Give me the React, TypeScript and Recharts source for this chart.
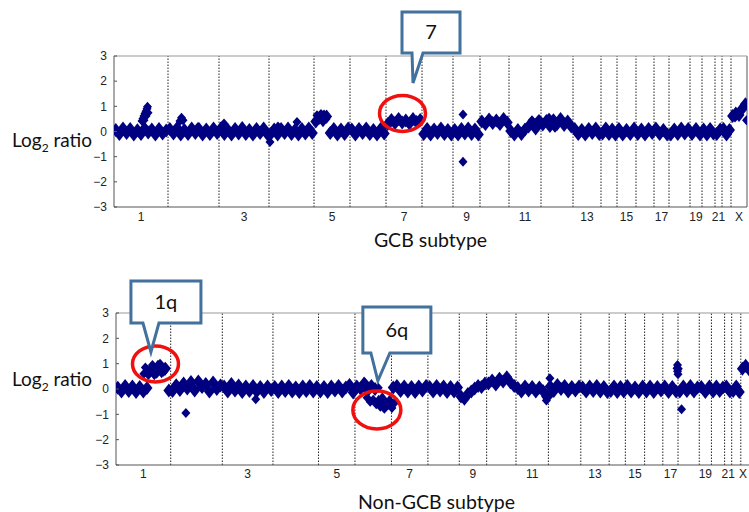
import React from 'react';
import { ScatterChart, Scatter, XAxis, YAxis, ReferenceLine, ReferenceDot, Label } from 'recharts';

// chromosome order and relative sizes (in probe units)
const CHROM_NAMES = ['1', '2', '3', '4', '5', '6', '7', '8', '9', '10', '11', '12', '13', '14', '15', '16', '17', '18', '19', '20', '21', '22', 'X'];
const CHROM_LENGTHS = [54, 51, 50, 45, 36, 36, 36, 31, 27, 29, 32, 32, 28, 16, 19, 18, 15, 21, 12, 13, 7, 9, 16];
const LABELED = ['1', '3', '5', '7', '9', '11', '13', '15', '17', '19', '21', 'X'];
const Y_TICKS = [-3, -2, -1, 0, 1, 2, 3];

// log2 ratios per chromosome, GCB subtype
const GCB_LEVELS: number[][] = [
  [0.06, -0.1, 0.12, -0.06, 0.1, -0.12, 0.05, -0.1, 0.12, -0.04, 0.08, -0.12, 0.1, -0.08, 0.04],
  [0.1, -0.08, 0.14, -0.12, 0.06, -0.1, 0.12, -0.06, 0.1, -0.12, 0.08, -0.1, 0.12, -0.06],
  [0.12, -0.1, 0.06, -0.12, 0.1, -0.08, 0.14, -0.1, 0.06, -0.12, 0.1, -0.06, 0.12, -0.1],
  [-0.1, 0.08, -0.12, 0.1, -0.06, 0.12, -0.1, 0.06, -0.12, 0.1, -0.08, 0.12, -0.06],
  [0.4, 0.55, 0.45, 0.6, -0.06, 0.1, -0.12, 0.08, -0.1, 0.12],
  [0.08, -0.12, 0.1, -0.06, 0.12, -0.1, 0.06, -0.12, 0.1, -0.08],
  [0.3, 0.46, 0.34, 0.5, 0.36, 0.44, 0.32, 0.5, 0.38, 0.46],
  [-0.1, 0.1, -0.12, 0.08, -0.06, 0.12, -0.1, 0.06, -0.12],
  [0.06, -0.12, 0.1, -0.08, 0.12, -0.1, 0.08, -0.12],
  [0.4, 0.3, 0.48, 0.34, 0.44, 0.3, 0.5, 0.36],
  [0.02, -0.12, 0.06, -0.1, 0.08, 0.2, 0.32, 0.12, 0.36],
  [0.28, 0.42, 0.22, 0.45, 0.3, 0.5, 0.26, 0.4, 0.2],
  [0.1, -0.1, 0.06, -0.12, 0.1, -0.06, 0.12, -0.1],
  [-0.08, 0.12, -0.1, 0.08, -0.12],
  [0.1, -0.12, 0.06, -0.1, 0.12],
  [-0.1, 0.08, -0.12, 0.1, -0.06],
  [0.12, -0.1, 0.06, -0.12],
  [-0.12, 0.08, -0.1, 0.12, -0.08, 0.1],
  [-0.1, 0.1, -0.12],
  [0.08, -0.12, 0.1, -0.08],
  [-0.1, 0.08],
  [0.1, -0.12, 0.06],
  [0.62, 0.72, 0.66, 0.9, 1.08],
];
// [chromosome index, offset in chromosome, log2 ratio]
const GCB_EXTRA: [number, number, number][] = [
  [0, 28, 0.42], [0, 29, 0.52], [0, 30, 0.62], [0, 31, 0.72], [0, 32, 0.8], [0, 33, 0.9], [0, 33.5, 0.98],
  [0, 30, 0.45], [0, 32, 0.62], [0, 34, 0.75],
  [1, 12, 0.42], [1, 13.5, 0.55], [1, 15, 0.45], [1, 30, 0.18],
  [2, 5, 0.32],
  [3, 1, -0.42], [3, 9, 0.2], [3, 28, 0.38],
  [4, 3, 0.65], [4, 7, 0.7], [4, 10, 0.68], [4, 12, 0.5],
  [8, 10, 0.68], [8, 10, -1.2],
  [10, 23, 0.45], [10, 27, 0.2], [10, 30, 0.5],
  [11, 8, 0.55], [11, 14, 0.15],
  [22, 4, 0.56], [22, 9, 0.78], [22, 13, 1.0], [22, 15.5, 0.45],
];

// log2 ratios per chromosome, non-GCB subtype
const NON_GCB_LEVELS: number[][] = [
  [0.05, -0.1, 0.12, -0.08, 0.1, -0.12, 0.08, -0.1, 0.04, 0.75, 0.62, 0.88, 0.7, 0.8, -0.06],
  [-0.08, 0.15, -0.04, 0.22, 0.02, 0.28, -0.06, 0.3, 0.08, 0.2, -0.1, 0.26, 0.0, 0.14],
  [0.1, -0.1, 0.2, -0.06, 0.14, -0.12, 0.1, -0.08, 0.12, -0.1, 0.08, -0.12, 0.1, -0.04],
  [0.08, -0.12, 0.1, -0.08, 0.12, -0.1, 0.06, -0.12, 0.1, -0.08, 0.12, -0.1, 0.08],
  [-0.1, 0.08, -0.12, 0.1, -0.06, 0.12, -0.1, 0.06, 0.16, -0.14],
  [0.1, 0.02, 0.22, -0.06, 0.12, 0.0, -0.5, -0.4, -0.62, -0.5],
  [0.06, 0.12, -0.08, 0.1, -0.1, 0.08, -0.12, 0.1, -0.06, 0.12],
  [0.08, -0.1, 0.12, -0.06, 0.1, -0.12, 0.08, -0.1, 0.06],
  [-0.3, -0.38, -0.2, -0.1, 0.02, 0.12, 0.08, 0.22],
  [0.22, 0.34, 0.18, 0.4, 0.3, 0.46, 0.26, 0.12],
  [0.04, -0.1, 0.1, -0.06, 0.08, -0.1, 0.06, -0.08, -0.3],
  [0.1, -0.08, 0.16, 0.0, 0.12, -0.1, 0.08, -0.06, 0.1],
  [0.06, -0.1, 0.1, -0.08, 0.12, -0.1, 0.08, -0.12],
  [-0.08, 0.1, -0.12, 0.08, -0.1],
  [0.12, -0.1, 0.06, -0.12, 0.1],
  [-0.1, 0.1, -0.12, 0.08, -0.06],
  [0.1, -0.12, 0.08, -0.1],
  [-0.1, 0.1, -0.08, 0.12, -0.1, 0.06],
  [0.08, -0.12, 0.1],
  [-0.1, 0.1, -0.08, 0.06],
  [0.1, -0.1],
  [-0.08, 0.1, -0.12],
  [0.8, 0.92, 0.78, 0.86, 0.82],
];
const NON_GCB_EXTRA: [number, number, number][] = [
  [0, 27.5, 0.6], [0, 29, 0.85], [0, 32, 0.55], [0, 36, 0.95], [0, 40, 0.6], [0, 43.5, 1.0], [0, 47, 0.68], [0, 49, 0.85],
  [0, 31, 0.75], [0, 38, 0.78], [0, 45, 0.82],
  [1, 15, -0.95],
  [2, 33, -0.4],
  [5, 10, 0.25], [5, 12, -0.35], [5, 15, -0.5], [5, 18, -0.42], [5, 21, -0.6], [5, 23, 0.05], [5, 25, -0.7],
  [5, 29, -0.78], [5, 33, -0.62], [5, 36.5, -0.75], [5, 39, -0.55], [5, 27, -0.45], [5, 31, -0.55],
  [10, 30, -0.45], [10, 31.5, -0.25], [11, 1.5, 0.42], [11, 0.5, -0.3],
  [16, 14.5, 0.95], [16, 14.5, 0.7], [16, 14, 0.82], [16, 15, 0.58], [16, 15.3, 0.8],
  [17, 3.5, -0.8],
];

// annotations: ring centre / callout tip in data units
const GCB_RINGS = [{ x: 288.5, y: 0.72, rx: 23, ry: 18 }];
const GCB_CALLOUTS = [{ text: '7', x: 299, y: 1.93, box: [-11, -71, 47, -30], base: [-1, 10] }];
const NON_GCB_RINGS = [
  { x: 39, y: 0.99, rx: 23, ry: 18 },
  { x: 257.6, y: -0.83, rx: 24, ry: 19 },
];
const NON_GCB_CALLOUTS = [
  { text: '1q', x: 34.5, y: 1.46, box: [-20, -71, 50, -29], base: [-8, 8] },
  { text: '6q', x: 258.6, y: 0.32, box: [-15, -74, 53, -28], base: [-7, 12] },
];

const STARTS: number[] = [];
CHROM_LENGTHS.reduce((acc, len) => { STARTS.push(acc); return acc + len; }, 0);
const TOTAL = CHROM_LENGTHS.reduce((a, b) => a + b, 0);
const BOUNDARIES = STARTS.slice(1);
const X_TICKS = CHROM_NAMES.map((n, i) => (LABELED.includes(n) ? STARTS[i] + CHROM_LENGTHS[i] / 2 : null)).filter((v) => v !== null) as number[];

const levelPoints = (levels: number[][]) =>
  levels.flatMap((vals, c) => vals.map((v, j) => ({ x: STARTS[c] + ((j + 0.5) * CHROM_LENGTHS[c]) / vals.length, y: v })));
const extraPoints = (extra: [number, number, number][]) => extra.map(([c, off, v]) => ({ x: STARTS[c] + off, y: v }));

const NAVY = '#000080';
const TICK_FONT = '"Liberation Sans", Arial, sans-serif';
const TITLE_FONT = 'Lato, "Open Sans", sans-serif';

// dense probes merge into a thick band, isolated probes are small diamonds
const diamond = (hw: number, hh: number) => (props: any) => {
  const { cx, cy } = props;
  if (cx == null || cy == null) return null;
  return <polygon points={`${cx},${cy - hh} ${cx + hw},${cy} ${cx},${cy + hh} ${cx - hw},${cy}`} fill={NAVY} />;
};
const BandMark = diamond(5.5, 7);
const ProbeMark = diamond(4.5, 5);

const YTick = (props: any) => {
  const { x, y, payload } = props;
  const v = payload.value as number;
  const s = v < 0 ? '\u2212' + Math.abs(v) : String(v);
  return (
    <g>
      <line x1={x} x2={x + 3} y1={y} y2={y} stroke="#555" />
      <text x={x - 7} y={y} dy="0.35em" textAnchor="end" fontSize={12} fontFamily={TICK_FONT} fill="#222">{s}</text>
    </g>
  );
};

const XTick = (props: any) => {
  const { x, y, payload, dy, maxX } = props;
  const i = STARTS.findIndex((s, k) => payload.value >= s && payload.value < s + CHROM_LENGTHS[k]);
  return (
    <text x={Math.min(x, maxX)} y={y + dy} textAnchor="middle" fontSize={12} fontFamily={TICK_FONT} fill="#222">{CHROM_NAMES[i]}</text>
  );
};

const ring = (r: { rx: number; ry: number }) => (p: any) =>
  <ellipse cx={p.cx} cy={p.cy} rx={r.rx} ry={r.ry} fill="none" stroke="#f01010" strokeWidth={3.5} />;

const callout = (c: { text: string; box: number[]; base: number[] }) => (p: any) => {
  const { cx, cy } = p;
  const [l, t, r, b] = c.box;
  const d = `M ${cx + c.base[0]} ${cy + b} L ${cx + l} ${cy + b} L ${cx + l} ${cy + t} L ${cx + r} ${cy + t} L ${cx + r} ${cy + b} L ${cx + c.base[1]} ${cy + b} L ${cx} ${cy} Z`;
  return (
    <g>
      <path d={d} fill="#fff" stroke="#41719c" strokeWidth={3} />
      <text x={cx + (l + r) / 2} y={cy + (t + b) / 2} dy="0.35em" textAnchor="middle" fontSize={20} fontFamily={TITLE_FONT} fill="#111">{c.text}</text>
    </g>
  );
};

interface PanelProps {
  width: number;
  height: number;
  left: number;
  top: number;
  right: number;
  xAxisHeight: number;
  levels: number[][];
  extra: [number, number, number][];
  rings: { x: number; y: number; rx: number; ry: number }[];
  callouts: { text: string; x: number; y: number; box: number[]; base: number[] }[];
  yTitleY: number;
  xTitle: string;
  xTitleY: number;
  tickDy: number;
  rightBorder: boolean;
}

function Panel(p: PanelProps) {
  return (
    <ScatterChart width={p.width} height={p.height} margin={{ top: p.top, right: p.right, bottom: 0, left: p.left }}>
      <XAxis type="number" dataKey="x" domain={[0, TOTAL]} ticks={X_TICKS} interval={0} tick={<XTick dy={p.tickDy} maxX={743} />}
        tickLine={false} tickSize={0} tickMargin={0} axisLine={{ stroke: '#555' }} height={p.xAxisHeight} allowDataOverflow>
        <Label content={(lp: any) => {
          const vb = lp.viewBox;
          return <text x={vb.x + vb.width / 2} y={vb.y + p.xTitleY} textAnchor="middle" fontSize={19.5} fontFamily={TITLE_FONT} fill="#111">{p.xTitle}</text>;
        }} />
      </XAxis>
      <YAxis type="number" dataKey="y" domain={[-3, 3]} ticks={Y_TICKS} interval={0} tick={<YTick />}
        tickLine={false} tickSize={0} tickMargin={0} axisLine={{ stroke: '#555' }} width={50}>
        <Label content={(lp: any) => {
          const vb = lp.viewBox;
          return (
            <text x={12} y={vb.y + p.yTitleY} fontSize={19} fontFamily={TITLE_FONT} fill="#111">
              Log<tspan fontSize={12} dy={5}>2</tspan><tspan dy={-5}> ratio</tspan>
            </text>
          );
        }} />
      </YAxis>
      {BOUNDARIES.map((b) => (
        <ReferenceLine key={b} x={b} stroke="#222" strokeDasharray="1.5 1.5" />
      ))}
      <ReferenceLine y={3} stroke="#999" />
      {p.rightBorder && <ReferenceLine x={TOTAL} stroke="#aaa" strokeWidth={2} />}
      <Scatter data={levelPoints(p.levels)} shape={BandMark} isAnimationActive={false} />
      <Scatter data={extraPoints(p.extra)} shape={ProbeMark} isAnimationActive={false} />
      {p.rings.map((r, i) => (
        <ReferenceDot key={'r' + i} x={r.x} y={r.y} r={1} ifOverflow="visible" shape={ring(r)} />
      ))}
      {p.callouts.map((c, i) => (
        <ReferenceDot key={'c' + i} x={c.x} y={c.y} r={1} ifOverflow="visible" shape={callout(c)} />
      ))}
    </ScatterChart>
  );
}

export default function App() {
  return (
    <div style={{ position: 'absolute', left: 0, top: 0, width: 749, height: 512, overflow: 'hidden', background: '#fff' }}>
      <div style={{ position: 'absolute', left: 0, top: 0 }}>
        <Panel width={749} height={262} left={64} top={56} right={2} xAxisHeight={55}
          levels={GCB_LEVELS} extra={GCB_EXTRA} rings={GCB_RINGS} callouts={GCB_CALLOUTS}
          yTitleY={91} xTitle="GCB subtype" xTitleY={40} tickDy={14} rightBorder />
      </div>
      <div style={{ position: 'absolute', left: 0, top: 262 }}>
        <Panel width={760} height={250} left={66} top={51} right={3} xAxisHeight={47}
          levels={NON_GCB_LEVELS} extra={NON_GCB_EXTRA} rings={NON_GCB_RINGS} callouts={NON_GCB_CALLOUTS}
          yTitleY={73} xTitle="Non-GCB subtype" xTitleY={44} tickDy={13} rightBorder={false} />
      </div>
    </div>
  );
}
